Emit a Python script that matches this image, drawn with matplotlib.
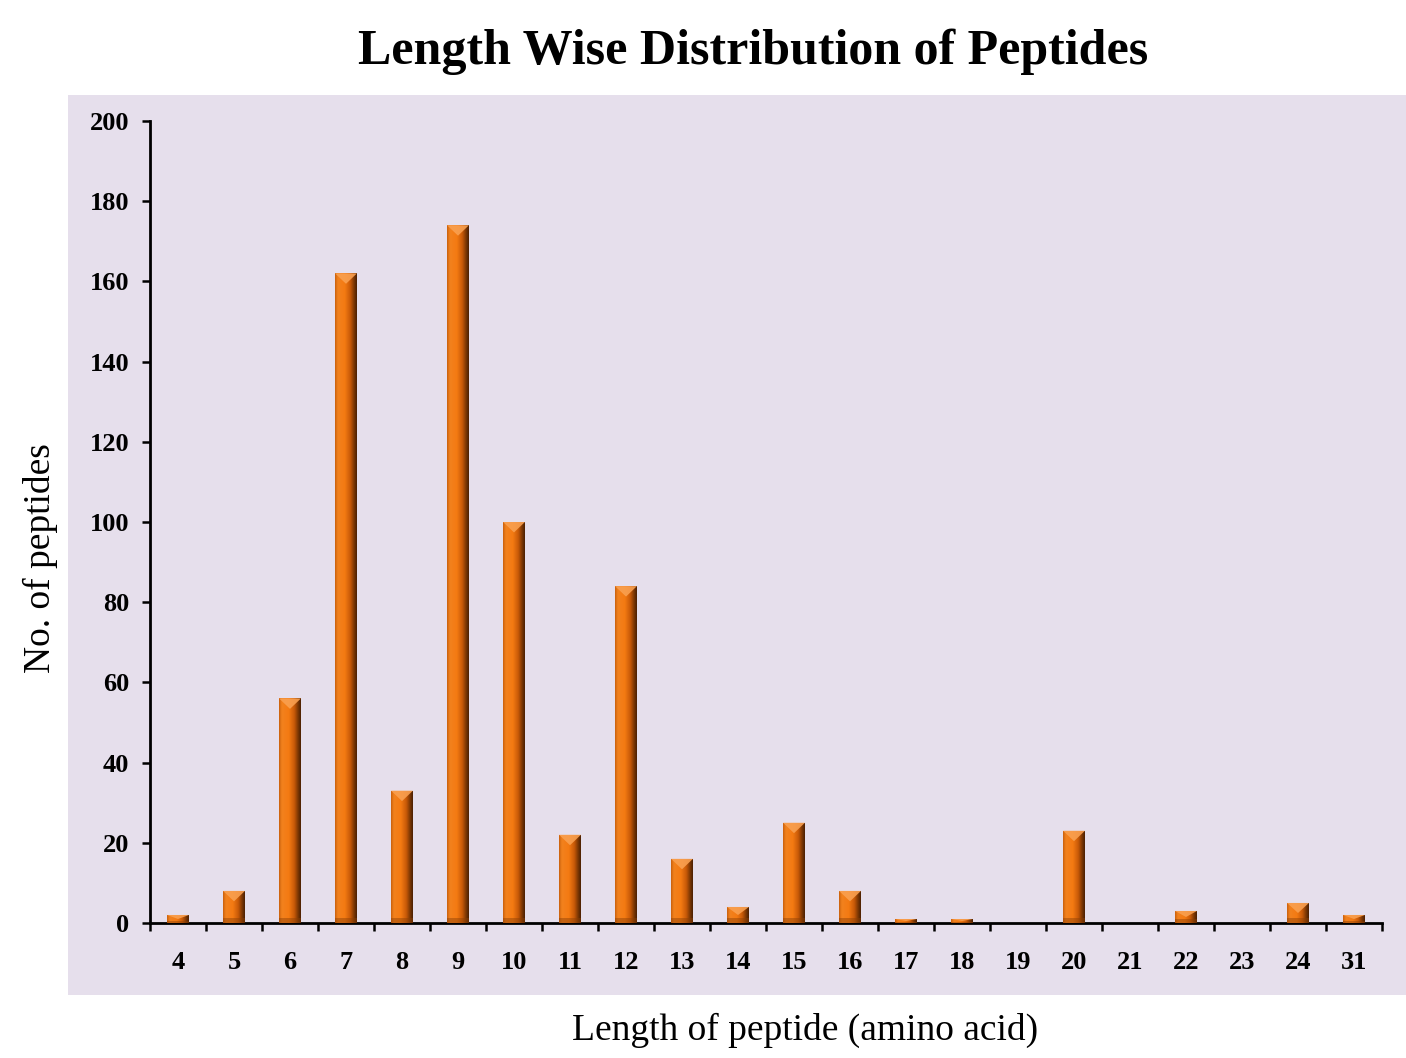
import matplotlib
matplotlib.use("Agg")
import matplotlib.pyplot as plt
import numpy as np
from matplotlib.colors import LinearSegmentedColormap
from matplotlib.patches import Rectangle

categories = ["4", "5", "6", "7", "8", "9", "10", "11", "12", "13", "14", "15",
              "16", "17", "18", "19", "20", "21", "22", "23", "24", "31"]
counts = [2, 8, 56, 162, 33, 174, 100, 22, 84, 16, 4, 25,
          8, 1, 1, 0, 23, 0, 3, 0, 5, 2]
y_ticks = [0, 20, 40, 60, 80, 100, 120, 140, 160, 180, 200]

plt.rcParams['font.family'] = ['Liberation Serif', 'DejaVu Serif']

W, H = 1406, 1058
fig = plt.figure(figsize=(W / 100, H / 100), dpi=100)
fig.patch.set_facecolor('white')

# lavender panel (background axes)
bg = fig.add_axes([68 / W, 1 - 995 / H, 1 - 68 / W, (995 - 95) / H], zorder=-1)
bg.set_facecolor('#E6DFEC')
bg.set_xticks([])
bg.set_yticks([])
for s in bg.spines.values():
    s.set_visible(False)

ax = fig.add_axes([150 / W, 1 - 923 / H, (1382 - 150) / W, (923 - 121) / H], zorder=1)
ax.set_facecolor('none')

x = np.arange(len(categories))
width = 0.39
bars = ax.bar(x, counts, width=width, color='#EE7410', edgecolor='none', zorder=2)

cmap = LinearSegmentedColormap.from_list(
    'bar', [(0.0, '#C8600C'), (0.12, '#F2821E'), (0.45, '#F47A12'),
            (0.7, '#C85A08'), (0.88, '#7A3604'), (1.0, '#4A2002')])
grad = np.linspace(0, 1, 64).reshape(1, -1)
for b, v in zip(bars, counts):
    if v <= 0:
        continue
    x0 = b.get_x()
    w = b.get_width()
    im = ax.imshow(grad, cmap=cmap, aspect='auto', extent=(x0, x0 + w, 0, v),
                   zorder=3, interpolation='bicubic')
    im.set_clip_path(b)
    cap = min(2.6, v * 0.5)
    tri = plt.Polygon([(x0, v), (x0 + w, v), (x0 + w / 2, v - cap)],
                      closed=True, facecolor='#F9A050', edgecolor='none', zorder=4, alpha=0.9)
    ax.add_patch(tri)
    band = min(1.2, v * 0.3)
    ax.add_patch(Rectangle((x0, 0), w, band, facecolor='#8A3F06', alpha=0.45,
                           edgecolor='none', zorder=4))

ax.set_xlim(-0.5, len(categories) - 0.5)
ax.set_ylim(0, 200)
ax.set_yticks(y_ticks)
ax.set_yticklabels([str(t) for t in y_ticks], fontsize=19, fontweight='bold')
ax.set_xticks(x)
ax.set_xticklabels(categories, fontsize=19, fontweight='bold')
ax.set_xticks(np.arange(len(categories) + 1) - 0.5, minor=True)
ax.tick_params(axis='x', which='major', length=0, pad=20)
ax.tick_params(axis='x', which='minor', length=6, width=1.8, direction='out')
ax.tick_params(axis='y', which='major', length=6, width=1.8, direction='out', pad=9)

for s in ['top', 'right']:
    ax.spines[s].set_visible(False)
for s in ['left', 'bottom']:
    ax.spines[s].set_linewidth(2)
    ax.spines[s].set_color('black')

fig.text(753 / W, 1 - 52 / H, 'Length Wise Distribution of Peptides',
         ha='center', va='center', fontsize=36, fontweight='bold')
fig.text(805 / W, 1 - 1030 / H, 'Length of peptide (amino acid)',
         ha='center', va='center', fontsize=27)
fig.text(40 / W, 1 - 558 / H, 'No. of peptides', ha='center', va='center',
         rotation=90, fontsize=27)

fig.savefig('out.png', dpi=100)
